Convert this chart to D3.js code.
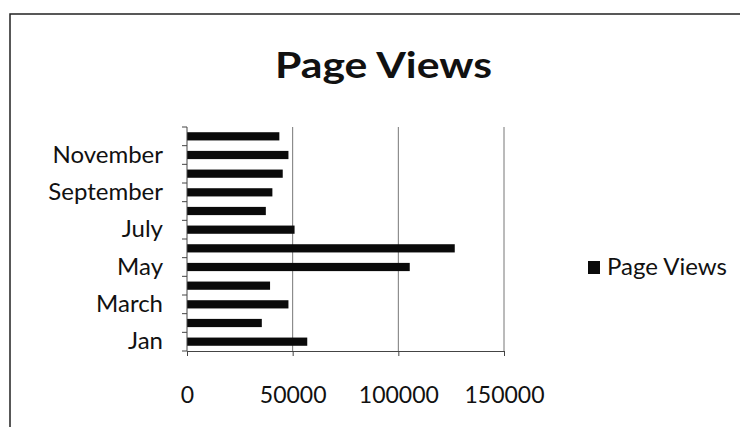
<!DOCTYPE html>
<html>
<head>
<meta charset="utf-8">
<script src="https://cdn.jsdelivr.net/npm/d3@7"></script>
<style>
  body { margin: 0; background: #fff; }
  svg { font-family: Lato, "Open Sans", sans-serif; }
</style>
</head>
<body>
<svg id="mainsvg" width="740" height="427"></svg>
<script>
// data
const months = ['Jan', 'Feb', 'March', 'April', 'May', 'June', 'July', 'Aug', 'September', 'October', 'November', 'Dec'];
const views = [56900, 35400, 48000, 39300, 105400, 126700, 50900, 37300, 40400, 45300, 48000, 43700];
const xTicks = [0, 50000, 100000, 150000];
const shownLabels = ['Jan', 'March', 'May', 'July', 'September', 'November'];

const svg = d3.select('#mainsvg');
const margin = {top: 127, left: 187};
const innerWidth = 504 - margin.left;
const innerHeight = 351 - margin.top;
const font = 'Lato, "Open Sans", sans-serif';

// frame (cut off on the right / bottom like the scan)
svg.append('rect')
  .attr('x', 10).attr('y', 14)
  .attr('width', 760).attr('height', 440)
  .attr('fill', 'none')
  .attr('stroke', '#222')
  .attr('stroke-width', 1.5);

svg.append('text')
  .attr('x', 275).attr('y', 78)
  .attr('font-size', '37px')
  .attr('font-weight', 'bold')
  .attr('textLength', 217)
  .attr('lengthAdjust', 'spacingAndGlyphs')
  .attr('fill', '#111')
  .text('Page Views');

const g = svg.append('g')
  .attr('transform', `translate(${margin.left}, ${margin.top})`);

const xScale = d3.scaleLinear().domain([0, 150000]).range([0, innerWidth]);
const yScale = d3.scaleBand().domain(months.slice().reverse()).range([0, innerHeight])
  .paddingInner(0.56).paddingOuter(0.28);

// gridlines
g.selectAll('.grid').data(xTicks.slice(1)).join('line')
  .attr('class', 'grid')
  .attr('x1', d => xScale(d)).attr('x2', d => xScale(d))
  .attr('y1', 0).attr('y2', innerHeight)
  .attr('stroke', '#777').attr('stroke-width', 1);

// bars
g.selectAll('.bar').data(months).join('rect')
  .attr('class', 'bar')
  .attr('x', 0)
  .attr('y', d => yScale(d))
  .attr('width', (d, i) => xScale(views[i]))
  .attr('height', yScale.bandwidth())
  .attr('fill', '#0a0a0a');

// x axis
const xAxis = d3.axisBottom(xScale).tickValues(xTicks).tickSize(5)
  .tickFormat(d3.format('d'));
const xg = g.append('g').attr('transform', `translate(0, ${innerHeight})`).call(xAxis)
  .attr('font-family', font);
xg.select('.domain').attr('stroke', '#444');
xg.selectAll('line').attr('stroke', '#444');
xg.selectAll('text').attr('font-size', '23px').attr('fill', '#111')
  .attr('dy', null).attr('y', 52);

// y axis: labels every other category, ticks at band boundaries
const yAxis = d3.axisLeft(yScale).tickSize(0).tickPadding(24)
  .tickValues(months.filter(d => shownLabels.includes(d)));
const yg = g.append('g').call(yAxis).attr('font-family', font);
yg.select('.domain').remove();
yg.selectAll('text').attr('font-size', '24px').attr('fill', '#111');

const bounds = d3.range(months.length + 1).map(i => i * innerHeight / months.length);
g.append('line').attr('x1', 0).attr('x2', 0).attr('y1', 0).attr('y2', innerHeight)
  .attr('stroke', '#444');
g.selectAll('.ytick').data(bounds).join('line')
  .attr('class', 'ytick')
  .attr('x1', -5).attr('x2', 0)
  .attr('y1', d => d).attr('y2', d => d)
  .attr('stroke', '#444');

// legend
const legend = svg.append('g').attr('transform', 'translate(588, 261)');
legend.append('rect').attr('width', 12).attr('height', 13).attr('fill', '#0a0a0a');
legend.append('text').attr('x', 19).attr('y', 14)
  .attr('font-size', '24px').attr('fill', '#111').text('Page Views');
</script>
</body>
</html>
